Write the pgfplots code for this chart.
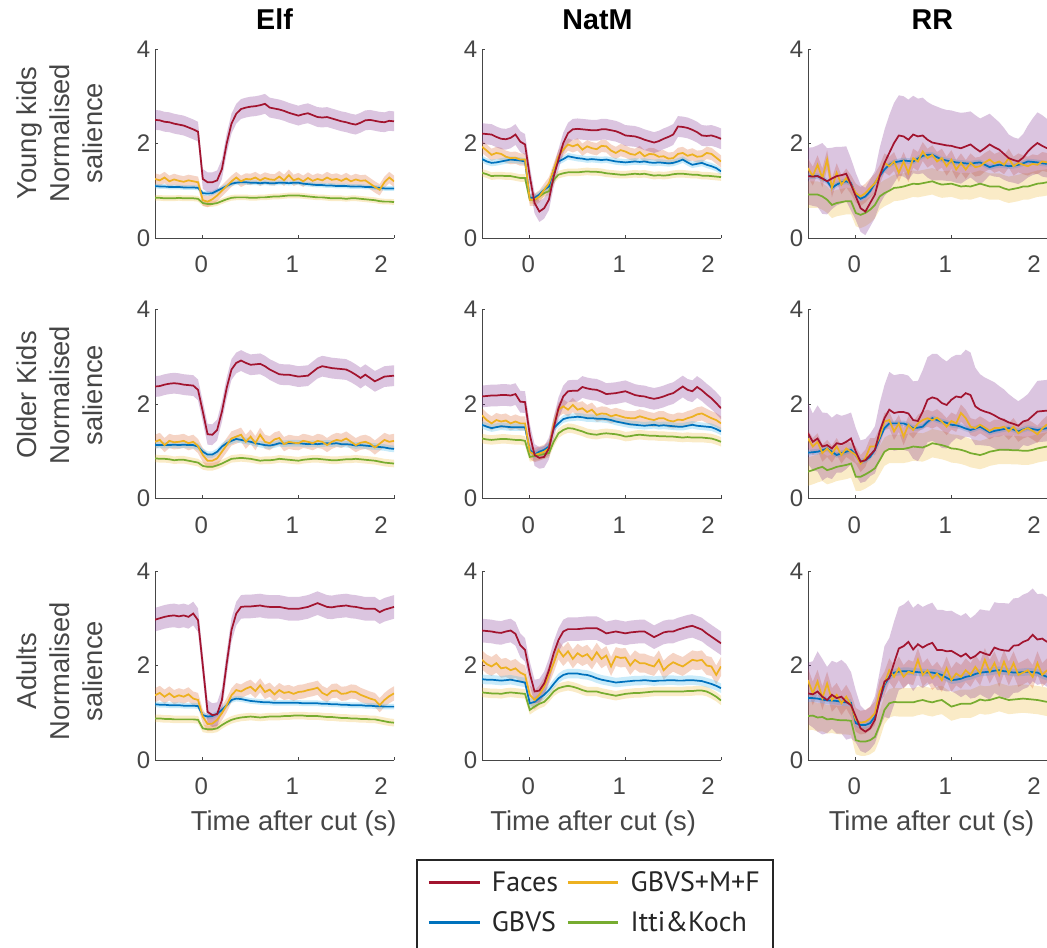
\documentclass[border=0pt]{standalone}
\usepackage{fontspec}
\setmainfont{Liberation Sans}
\newfontfamily\legfont{PT Sans}
\usepackage{pgfplots}
\usepackage{pgfplotstable}
\usepgfplotslibrary{fillbetween}
\pgfplotsset{compat=1.18}

\definecolor{cred}{RGB}{162,20,47}
\definecolor{cblue}{RGB}{0,114,189}
\definecolor{corange}{RGB}{237,177,32}
\definecolor{cgreen}{RGB}{119,172,48}
\definecolor{bpurple}{RGB}{126,47,142}
\definecolor{bblue}{RGB}{77,190,238}
\definecolor{bsalmon}{RGB}{217,83,25}
\definecolor{byellow}{RGB}{237,177,32}
\definecolor{axgray}{RGB}{70,70,70}

% Elf, young kids
\pgfplotstableread{
x fa gb gm ik
-0.50 2.50 1.10 1.25 0.85
-0.45 2.49 1.09 1.22 0.85
-0.40 2.46 1.09 1.28 0.84
-0.35 2.45 1.08 1.20 0.84
-0.30 2.42 1.08 1.24 0.84
-0.25 2.40 1.08 1.21 0.85
-0.20 2.38 1.07 1.19 0.84
-0.15 2.34 1.07 1.22 0.84
-0.10 2.30 1.07 1.20 0.84
-0.05 2.25 1.06 1.18 0.83
0.00 1.25 0.95 0.80 0.74
0.05 1.18 0.94 0.77 0.72
0.10 1.18 0.95 0.82 0.72
0.15 1.22 1.00 0.90 0.74
0.20 1.46 1.05 1.00 0.78
0.25 2.00 1.10 1.10 0.82
0.30 2.42 1.15 1.20 0.85
0.35 2.63 1.17 1.28 0.86
0.40 2.73 1.18 1.20 0.86
0.45 2.76 1.18 1.25 0.86
0.50 2.78 1.17 1.24 0.85
0.55 2.79 1.17 1.28 0.85
0.60 2.81 1.16 1.22 0.86
0.65 2.84 1.17 1.27 0.86
0.70 2.76 1.16 1.24 0.87
0.75 2.74 1.16 1.23 0.88
0.80 2.72 1.17 1.30 0.88
0.85 2.69 1.17 1.22 0.89
0.90 2.65 1.16 1.33 0.90
0.95 2.62 1.17 1.22 0.90
1.00 2.59 1.17 1.26 0.90
1.05 2.62 1.15 1.20 0.89
1.10 2.64 1.14 1.27 0.88
1.15 2.60 1.13 1.21 0.87
1.20 2.56 1.12 1.25 0.86
1.25 2.55 1.12 1.22 0.86
1.30 2.56 1.11 1.28 0.85
1.35 2.53 1.11 1.23 0.84
1.40 2.50 1.10 1.25 0.84
1.45 2.47 1.10 1.21 0.84
1.50 2.45 1.10 1.26 0.83
1.55 2.42 1.09 1.20 0.84
1.60 2.40 1.09 1.24 0.84
1.65 2.44 1.09 1.21 0.83
1.70 2.49 1.08 1.22 0.82
1.75 2.50 1.08 1.15 0.81
1.80 2.48 1.07 1.08 0.80
1.85 2.46 1.06 1.02 0.78
1.90 2.45 1.05 1.18 0.77
1.95 2.48 1.05 1.28 0.77
2.00 2.47 1.05 1.20 0.76
}\tabA

% NatM, young kids
\pgfplotstableread{
x fa gb gm ik
-0.50 2.21 1.67 1.93 1.38
-0.45 2.20 1.62 1.85 1.35
-0.40 2.19 1.59 1.76 1.31
-0.35 2.14 1.60 1.80 1.32
-0.30 2.10 1.62 1.78 1.32
-0.25 2.09 1.64 1.72 1.31
-0.20 2.12 1.66 1.69 1.31
-0.15 2.19 1.65 1.70 1.29
-0.10 2.04 1.64 1.66 1.27
-0.05 1.98 1.62 1.66 1.27
0.00 1.30 0.85 0.81 0.81
0.05 0.74 0.85 0.81 0.81
0.10 0.56 0.92 0.88 0.88
0.15 0.63 1.02 1.02 0.95
0.20 0.81 1.09 1.16 0.99
0.25 1.30 1.45 1.45 1.23
0.30 1.66 1.62 1.73 1.34
0.35 2.01 1.67 1.87 1.37
0.40 2.22 1.73 1.98 1.39
0.45 2.30 1.71 1.94 1.39
0.50 2.31 1.69 1.98 1.39
0.55 2.30 1.68 1.87 1.40
0.60 2.29 1.66 1.94 1.41
0.65 2.28 1.67 1.90 1.40
0.70 2.28 1.66 1.88 1.40
0.75 2.30 1.65 1.95 1.39
0.80 2.30 1.66 1.94 1.37
0.85 2.28 1.64 1.85 1.36
0.90 2.26 1.62 1.80 1.35
0.95 2.22 1.61 1.86 1.34
1.00 2.17 1.60 1.83 1.34
1.05 2.16 1.61 1.78 1.35
1.10 2.15 1.62 1.76 1.36
1.15 2.12 1.61 1.82 1.35
1.20 2.08 1.62 1.73 1.36
1.25 2.05 1.60 1.78 1.34
1.30 2.02 1.59 1.77 1.32
1.35 2.05 1.60 1.72 1.33
1.40 2.10 1.59 1.73 1.32
1.45 2.14 1.58 1.68 1.33
1.50 2.19 1.59 1.69 1.35
1.55 2.36 1.62 1.78 1.36
1.60 2.35 1.66 1.80 1.36
1.65 2.33 1.60 1.74 1.35
1.70 2.29 1.55 1.77 1.34
1.75 2.24 1.57 1.72 1.34
1.80 2.17 1.59 1.73 1.32
1.85 2.16 1.55 1.80 1.32
1.90 2.17 1.52 1.78 1.31
1.95 2.14 1.48 1.70 1.30
2.00 2.10 1.41 1.62 1.29
}\tabB

% RR, young kids
\pgfplotstableread{
x fa fe gb gm ik
-0.50 1.31 0.60 1.31 1.48 0.92
-0.45 1.30 0.62 1.31 1.31 0.92
-0.40 1.31 0.65 1.31 1.55 0.92
-0.35 1.26 0.75 1.26 1.27 0.88
-0.30 1.20 0.70 1.20 1.66 0.81
-0.25 1.26 0.65 1.06 1.06 0.70
-0.20 1.31 0.62 1.13 1.38 0.74
-0.15 1.33 0.60 1.18 1.13 0.76
-0.10 1.36 0.58 1.20 1.27 0.78
-0.05 1.13 0.55 1.16 1.13 0.78
0.00 0.88 0.50 0.92 0.95 0.53
0.05 0.63 0.50 0.83 0.88 0.49
0.10 0.56 0.50 0.88 0.95 0.53
0.15 0.74 0.50 0.99 1.06 0.60
0.20 0.92 0.50 1.16 1.16 0.70
0.25 1.31 0.60 1.31 1.34 0.88
0.30 1.59 0.70 1.45 1.59 0.95
0.35 1.80 0.80 1.55 1.52 1.00
0.40 2.01 0.85 1.60 1.62 1.06
0.45 2.17 0.85 1.62 1.38 1.07
0.50 2.15 0.85 1.64 1.62 1.09
0.55 2.08 0.85 1.63 1.38 1.12
0.60 2.19 0.82 1.62 1.69 1.15
0.65 2.15 0.80 1.68 1.62 1.14
0.70 2.17 0.80 1.74 1.83 1.16
0.75 2.08 0.80 1.76 1.69 1.18
0.80 2.02 0.80 1.76 1.76 1.20
0.85 2.00 0.78 1.71 1.62 1.16
0.90 1.98 0.76 1.66 1.69 1.13
0.95 1.96 0.75 1.64 1.52 1.14
1.00 1.95 0.75 1.62 1.66 1.15
1.05 1.92 0.75 1.60 1.45 1.12
1.10 1.90 0.75 1.59 1.59 1.09
1.15 1.94 0.72 1.58 1.45 1.10
1.20 1.98 0.70 1.57 1.59 1.09
1.25 1.90 0.70 1.59 1.50 1.12
1.30 1.83 0.70 1.60 1.52 1.15
1.35 1.90 0.68 1.55 1.60 1.12
1.40 1.98 0.65 1.50 1.66 1.09
1.45 1.92 0.62 1.53 1.58 1.09
1.50 1.87 0.58 1.55 1.62 1.09
1.55 1.78 0.55 1.54 1.55 1.05
1.60 1.69 0.50 1.52 1.69 1.02
1.65 1.65 0.48 1.53 1.52 1.04
1.70 1.62 0.48 1.55 1.59 1.06
1.75 1.70 0.50 1.58 1.55 1.09
1.80 1.83 0.55 1.62 1.52 1.09
1.85 1.93 0.60 1.61 1.57 1.12
1.90 2.01 0.65 1.60 1.55 1.15
1.95 1.95 0.65 1.58 1.62 1.16
2.00 1.90 0.62 1.57 1.60 1.18
}\tabC

% Elf, older kids
\pgfplotstableread{
x fa gb gm ik
-0.50 2.37 1.13 1.20 0.85
-0.45 2.38 1.13 1.24 0.84
-0.40 2.41 1.13 1.13 0.84
-0.35 2.43 1.13 1.22 0.83
-0.30 2.44 1.14 1.19 0.81
-0.25 2.43 1.13 1.20 0.82
-0.20 2.41 1.14 1.22 0.82
-0.15 2.40 1.13 1.17 0.80
-0.10 2.39 1.13 1.20 0.78
-0.05 2.30 1.10 1.11 0.76
0.00 1.84 0.99 0.92 0.69
0.05 1.36 0.93 0.80 0.67
0.10 1.35 0.93 0.80 0.67
0.15 1.45 0.99 0.85 0.70
0.20 1.84 1.10 0.99 0.74
0.25 2.34 1.17 1.13 0.79
0.30 2.73 1.22 1.27 0.84
0.35 2.87 1.26 1.31 0.85
0.40 2.92 1.24 1.35 0.86
0.45 2.87 1.22 1.20 0.85
0.50 2.83 1.20 1.31 0.84
0.55 2.84 1.17 1.17 0.82
0.60 2.85 1.15 1.35 0.80
0.65 2.80 1.13 1.20 0.81
0.70 2.73 1.12 1.17 0.81
0.75 2.68 1.14 1.25 0.82
0.80 2.63 1.17 1.28 0.84
0.85 2.62 1.16 1.15 0.83
0.90 2.62 1.17 1.20 0.82
0.95 2.60 1.17 1.18 0.81
1.00 2.58 1.17 1.17 0.80
1.05 2.59 1.16 1.22 0.82
1.10 2.60 1.15 1.20 0.83
1.15 2.68 1.16 1.17 0.84
1.20 2.76 1.15 1.22 0.84
1.25 2.80 1.16 1.20 0.83
1.30 2.78 1.17 1.13 0.82
1.35 2.76 1.16 1.20 0.81
1.40 2.75 1.17 1.24 0.81
1.45 2.74 1.15 1.22 0.82
1.50 2.73 1.15 1.27 0.83
1.55 2.68 1.14 1.20 0.83
1.60 2.62 1.12 1.13 0.84
1.65 2.55 1.13 1.18 0.83
1.70 2.62 1.12 1.20 0.82
1.75 2.55 1.11 1.16 0.81
1.80 2.48 1.10 1.08 0.80
1.85 2.53 1.09 1.16 0.78
1.90 2.58 1.08 1.24 0.76
1.95 2.59 1.06 1.20 0.75
2.00 2.60 1.05 1.22 0.74
}\tabD

% NatM, older kids
\pgfplotstableread{
x fa gb gm ik
-0.50 2.16 1.56 1.76 1.27
-0.45 2.17 1.52 1.66 1.25
-0.40 2.18 1.49 1.59 1.24
-0.35 2.18 1.51 1.66 1.25
-0.30 2.19 1.53 1.63 1.26
-0.25 2.19 1.52 1.65 1.26
-0.20 2.18 1.51 1.59 1.25
-0.15 2.21 1.51 1.63 1.24
-0.10 2.05 1.51 1.59 1.24
-0.05 2.04 1.51 1.59 1.22
0.00 1.35 1.03 0.99 0.88
0.05 0.92 0.93 0.92 0.90
0.10 0.86 0.99 0.95 0.92
0.15 0.88 1.03 0.99 0.94
0.20 1.06 1.10 1.06 0.96
0.25 1.49 1.49 1.56 1.20
0.30 1.91 1.59 1.88 1.38
0.35 2.16 1.68 1.95 1.45
0.40 2.27 1.71 1.88 1.49
0.45 2.28 1.72 1.98 1.48
0.50 2.28 1.73 1.88 1.45
0.55 2.36 1.72 1.91 1.42
0.60 2.33 1.70 1.83 1.38
0.65 2.31 1.70 1.88 1.36
0.70 2.30 1.69 1.77 1.35
0.75 2.26 1.69 1.80 1.37
0.80 2.21 1.68 1.79 1.38
0.85 2.22 1.66 1.74 1.37
0.90 2.23 1.63 1.77 1.36
0.95 2.25 1.61 1.74 1.34
1.00 2.27 1.59 1.71 1.31
1.05 2.23 1.57 1.70 1.32
1.10 2.19 1.56 1.70 1.34
1.15 2.17 1.55 1.74 1.35
1.20 2.16 1.54 1.71 1.34
1.25 2.13 1.55 1.68 1.33
1.30 2.11 1.56 1.66 1.33
1.35 2.13 1.54 1.70 1.32
1.40 2.16 1.55 1.70 1.32
1.45 2.20 1.54 1.65 1.31
1.50 2.23 1.53 1.63 1.31
1.55 2.30 1.52 1.67 1.30
1.60 2.37 1.52 1.66 1.29
1.65 2.30 1.54 1.70 1.30
1.70 2.27 1.56 1.73 1.29
1.75 2.36 1.54 1.78 1.29
1.80 2.29 1.53 1.80 1.29
1.85 2.20 1.52 1.75 1.28
1.90 2.12 1.51 1.70 1.27
1.95 2.02 1.47 1.66 1.24
2.00 1.91 1.42 1.59 1.20
}\tabE

% RR, older kids
\pgfplotstableread{
x fa fe gb gm ik
-0.50 1.38 0.65 0.97 1.27 0.57
-0.45 1.20 0.60 0.98 1.10 0.60
-0.40 1.27 0.70 0.99 1.20 0.64
-0.35 1.10 0.72 1.02 0.96 0.67
-0.30 1.13 0.68 1.06 1.06 0.60
-0.25 1.06 0.65 0.99 0.94 0.63
-0.20 1.17 0.62 0.92 1.10 0.67
-0.15 1.15 0.60 0.96 0.92 0.69
-0.10 1.20 0.58 0.99 1.06 0.71
-0.05 1.27 0.55 1.03 0.99 0.74
0.00 0.99 0.50 0.92 0.92 0.46
0.05 0.78 0.45 0.78 0.74 0.46
0.10 0.81 0.45 0.81 0.85 0.51
0.15 0.92 0.45 0.88 1.10 0.57
0.20 1.03 0.50 1.03 1.10 0.64
0.25 1.42 0.60 1.27 1.31 0.81
0.30 1.70 0.70 1.49 1.63 0.99
0.35 1.88 0.80 1.59 1.66 1.05
0.40 1.81 0.80 1.59 1.42 1.05
0.45 1.83 0.80 1.59 1.59 1.05
0.50 1.83 0.80 1.59 1.31 1.05
0.55 1.80 0.80 1.55 1.56 1.07
0.60 1.66 0.82 1.49 1.45 1.10
0.65 1.64 0.85 1.50 1.59 1.09
0.70 1.84 0.88 1.52 1.66 1.08
0.75 2.09 0.90 1.62 1.70 1.12
0.80 2.14 0.92 1.70 1.66 1.17
0.85 2.11 0.95 1.66 1.71 1.15
0.90 2.02 0.95 1.63 1.63 1.13
0.95 1.98 0.92 1.60 1.52 1.10
1.00 2.09 0.90 1.56 1.64 1.06
1.05 2.16 0.88 1.55 1.59 1.05
1.10 2.14 0.90 1.52 1.81 1.03
1.15 2.23 0.92 1.48 1.70 1.00
1.20 2.19 0.90 1.45 1.52 0.96
1.25 1.95 0.82 1.48 1.49 0.94
1.30 1.88 0.75 1.52 1.56 0.92
1.35 1.84 0.72 1.46 1.50 0.95
1.40 1.81 0.70 1.40 1.43 0.99
1.45 1.76 0.70 1.43 1.49 1.01
1.50 1.70 0.68 1.45 1.49 1.03
1.55 1.66 0.65 1.47 1.52 1.03
1.60 1.61 0.60 1.49 1.42 1.03
1.65 1.58 0.55 1.46 1.52 1.02
1.70 1.54 0.52 1.42 1.38 1.02
1.75 1.63 0.50 1.46 1.45 1.01
1.80 1.66 0.55 1.49 1.49 1.01
1.85 1.75 0.60 1.47 1.43 1.03
1.90 1.84 0.65 1.45 1.36 1.06
1.95 1.85 0.65 1.47 1.48 1.08
2.00 1.86 0.65 1.49 1.57 1.10
}\tabF

% Elf, adults
\pgfplotstableread{
x fa gb gm ik
-0.50 2.97 1.18 1.37 0.88
-0.45 3.00 1.17 1.42 0.88
-0.40 3.03 1.17 1.34 0.87
-0.35 3.05 1.16 1.41 0.87
-0.30 3.06 1.16 1.33 0.86
-0.25 3.04 1.16 1.37 0.86
-0.20 3.06 1.15 1.34 0.86
-0.15 3.03 1.15 1.39 0.86
-0.10 3.10 1.15 1.30 0.86
-0.05 2.96 1.14 1.27 0.85
0.00 2.00 0.95 0.92 0.67
0.05 1.02 0.92 0.76 0.65
0.10 0.95 0.93 0.77 0.65
0.15 0.97 0.98 0.85 0.67
0.20 1.27 1.06 0.99 0.74
0.25 2.04 1.16 1.16 0.80
0.30 2.75 1.27 1.37 0.85
0.35 3.10 1.30 1.48 0.88
0.40 3.24 1.29 1.45 0.90
0.45 3.25 1.27 1.51 0.91
0.50 3.25 1.25 1.55 0.92
0.55 3.26 1.24 1.46 0.91
0.60 3.27 1.23 1.58 0.90
0.65 3.25 1.22 1.44 0.91
0.70 3.24 1.22 1.49 0.92
0.75 3.24 1.21 1.39 0.92
0.80 3.24 1.21 1.48 0.92
0.85 3.22 1.21 1.42 0.93
0.90 3.20 1.21 1.44 0.93
0.95 3.20 1.21 1.40 0.94
1.00 3.20 1.21 1.44 0.94
1.05 3.22 1.20 1.45 0.94
1.10 3.24 1.20 1.48 0.93
1.15 3.28 1.20 1.50 0.93
1.20 3.32 1.20 1.53 0.93
1.25 3.28 1.19 1.42 0.92
1.30 3.24 1.19 1.37 0.91
1.35 3.23 1.18 1.46 0.91
1.40 3.25 1.18 1.47 0.90
1.45 3.26 1.17 1.40 0.89
1.50 3.27 1.17 1.41 0.89
1.55 3.25 1.16 1.45 0.88
1.60 3.24 1.16 1.44 0.88
1.65 3.22 1.16 1.38 0.87
1.70 3.20 1.15 1.34 0.87
1.75 3.20 1.15 1.30 0.86
1.80 3.20 1.14 1.27 0.86
1.85 3.13 1.14 1.16 0.84
1.90 3.18 1.13 1.27 0.82
1.95 3.21 1.13 1.35 0.80
2.00 3.24 1.13 1.41 0.79
}\tabG

% NatM, adults
\pgfplotstableread{
x fa gb gm ik
-0.50 2.74 1.71 2.12 1.43
-0.45 2.73 1.70 2.03 1.42
-0.40 2.72 1.70 1.98 1.41
-0.35 2.70 1.69 2.05 1.41
-0.30 2.69 1.68 1.94 1.40
-0.25 2.72 1.69 1.96 1.42
-0.20 2.74 1.70 1.90 1.43
-0.15 2.67 1.68 1.94 1.42
-0.10 2.43 1.66 1.85 1.41
-0.05 2.33 1.64 1.80 1.40
0.00 1.83 1.20 1.38 1.06
0.05 1.45 1.23 1.27 1.13
0.10 1.47 1.31 1.38 1.19
0.15 1.62 1.38 1.55 1.23
0.20 1.90 1.48 1.80 1.33
0.25 2.26 1.61 2.05 1.45
0.30 2.54 1.73 2.33 1.52
0.35 2.72 1.80 2.19 1.55
0.40 2.77 1.83 2.30 1.57
0.45 2.77 1.83 2.14 1.55
0.50 2.77 1.83 2.26 1.52
0.55 2.78 1.81 2.19 1.48
0.60 2.79 1.80 2.24 1.45
0.65 2.79 1.77 2.12 1.45
0.70 2.79 1.73 2.28 1.45
0.75 2.74 1.70 2.14 1.42
0.80 2.68 1.68 2.21 1.40
0.85 2.70 1.66 1.98 1.38
0.90 2.72 1.64 2.19 1.36
0.95 2.70 1.65 2.16 1.38
1.00 2.68 1.66 2.17 1.40
1.05 2.70 1.67 2.00 1.41
1.10 2.71 1.68 2.12 1.42
1.15 2.72 1.68 2.05 1.42
1.20 2.72 1.69 2.05 1.43
1.25 2.66 1.68 2.01 1.44
1.30 2.60 1.67 1.98 1.45
1.35 2.65 1.68 2.12 1.45
1.40 2.70 1.68 1.90 1.45
1.45 2.72 1.69 2.00 1.45
1.50 2.72 1.69 2.07 1.45
1.55 2.76 1.68 2.02 1.45
1.60 2.79 1.68 1.98 1.45
1.65 2.82 1.69 2.05 1.46
1.70 2.84 1.69 2.12 1.46
1.75 2.80 1.68 2.10 1.47
1.80 2.76 1.67 2.12 1.47
1.85 2.68 1.64 2.00 1.45
1.90 2.61 1.61 1.98 1.40
1.95 2.54 1.57 1.80 1.34
2.00 2.47 1.52 1.98 1.26
}\tabH

% RR, adults
\pgfplotstableread{
x fa fe gb gm ik
-0.50 1.41 0.65 1.31 1.69 0.93
-0.45 1.39 0.70 1.31 1.41 0.94
-0.40 1.45 0.85 1.30 1.66 0.90
-0.35 1.34 0.80 1.28 1.31 0.91
-0.30 1.27 0.70 1.26 1.62 0.86
-0.25 1.38 0.72 1.26 1.27 0.87
-0.20 1.31 0.75 1.25 1.38 0.85
-0.15 1.34 0.78 1.23 1.20 0.84
-0.10 1.23 0.80 1.22 1.34 0.84
-0.05 1.16 0.70 1.21 1.16 0.83
0.00 0.92 0.55 0.78 0.85 0.42
0.05 0.67 0.48 0.74 0.79 0.39
0.10 0.60 0.45 0.74 0.81 0.39
0.15 0.67 0.45 0.78 0.88 0.42
0.20 0.85 0.50 0.92 0.99 0.49
0.25 1.27 0.60 1.27 1.45 0.74
0.30 1.66 0.75 1.59 1.62 1.06
0.35 1.73 0.85 1.76 1.90 1.20
0.40 2.05 0.88 1.85 1.76 1.23
0.45 2.36 0.88 1.87 1.94 1.22
0.50 2.41 0.88 1.88 1.76 1.22
0.55 2.50 0.88 1.88 1.87 1.22
0.60 2.34 0.88 1.87 1.83 1.22
0.65 2.45 0.86 1.86 2.12 1.25
0.70 2.38 0.86 1.85 1.80 1.27
0.75 2.44 0.85 1.85 1.90 1.24
0.80 2.48 0.85 1.85 1.73 1.22
0.85 2.33 0.85 1.83 1.83 1.25
0.90 2.33 0.85 1.80 1.69 1.27
0.95 2.30 0.85 1.74 1.94 1.20
1.00 2.31 0.85 1.69 1.69 1.13
1.05 2.25 0.85 1.70 1.83 1.16
1.10 2.19 0.86 1.72 1.76 1.19
1.15 2.25 0.86 1.76 1.90 1.19
1.20 2.15 0.85 1.78 1.80 1.19
1.25 2.20 0.88 1.82 1.97 1.23
1.30 2.29 0.90 1.85 1.83 1.28
1.35 2.25 0.92 1.86 2.12 1.26
1.40 2.22 0.94 1.87 1.87 1.27
1.45 2.38 0.96 1.89 2.05 1.30
1.50 2.34 0.98 1.90 1.80 1.33
1.55 2.32 1.00 1.88 2.08 1.30
1.60 2.31 1.00 1.87 1.83 1.27
1.65 2.42 1.00 1.85 2.05 1.28
1.70 2.43 1.00 1.85 1.80 1.29
1.75 2.50 1.00 1.86 1.85 1.30
1.80 2.54 1.00 1.87 1.90 1.29
1.85 2.65 0.98 1.86 1.76 1.28
1.90 2.55 0.96 1.85 2.05 1.27
1.95 2.57 0.95 1.80 1.80 1.25
2.00 2.50 0.95 1.76 1.90 1.23
}\tabI

% #1 table, #2-#5 half widths of the bands (faces, gbvs, gbvs+m+f, itti)
\newcommand{\drawpanel}[5]{%
  \addplot[name path=iu, draw=none, forget plot] table[x=x, y expr=\thisrow{ik}+#5] {#1};
  \addplot[name path=il, draw=none, forget plot] table[x=x, y expr=\thisrow{ik}-#5] {#1};
  \addplot[byellow, fill opacity=0.25, forget plot] fill between[of=iu and il];
  \addplot[name path=mu, draw=none, forget plot] table[x=x, y expr=\thisrow{gm}+#4] {#1};
  \addplot[name path=ml, draw=none, forget plot] table[x=x, y expr=\thisrow{gm}-#4] {#1};
  \addplot[bsalmon, fill opacity=0.25, forget plot] fill between[of=mu and ml];
  \addplot[name path=gu, draw=none, forget plot] table[x=x, y expr=\thisrow{gb}+#3] {#1};
  \addplot[name path=gl, draw=none, forget plot] table[x=x, y expr=\thisrow{gb}-#3] {#1};
  \addplot[bblue, fill opacity=0.3, forget plot] fill between[of=gu and gl];
  \addplot[name path=fu, draw=none, forget plot] table[x=x, y expr=\thisrow{fa}+#2] {#1};
  \addplot[name path=fl, draw=none, forget plot] table[x=x, y expr=\thisrow{fa}-#2] {#1};
  \addplot[bpurple, fill opacity=0.28, forget plot] fill between[of=fu and fl];
  \addplot[cgreen, line width=1.3pt, forget plot] table[x=x, y=ik] {#1};
  \addplot[cblue, line width=1.3pt, forget plot] table[x=x, y=gb] {#1};
  \addplot[corange, line width=1.3pt, forget plot] table[x=x, y=gm] {#1};
  \addplot[cred, line width=1.3pt, forget plot] table[x=x, y=fa] {#1};
}

\pgfplotsset{
  panel/.style={
    scale only axis, width=179.25pt, height=141.75pt, anchor=south west,
    xmin=-0.5, xmax=2, ymin=0, ymax=4,
    axis lines=left, axis line style={-, axgray, line width=0.7pt},
    xtick={0,1,2}, ytick={0,2,4}, xticklabels={},
    % the printed x labels sit a little left of their ticks, as in the source figure
    extra x ticks={-0.015,0.935,1.865}, extra x tick labels={0,1,2},
    extra x tick style={major tick length=0pt},
    tick align=inside, major tick length=2.5pt,
    tick style={axgray, line width=0.7pt},
    /pgf/number format/assume math mode=true,
    ticklabel style={font=\fontsize{18}{20}\selectfont, text=axgray},
    xticklabel style={yshift=-10pt},
    title style={font=\bfseries\fontsize{21.5}{24}\selectfont, anchor=base, yshift=9pt},
    ylabel style={font=\fontsize{20.5}{24.75}\selectfont, text=axgray, align=center,
      anchor=south, inner sep=0pt},
    xlabel style={font=\fontsize{20.5}{24}\selectfont, text=axgray, anchor=base, yshift=-52.5pt},
  }
}

\begin{document}
\begin{tikzpicture}

% row 1
\begin{axis}[panel, at={(116.25pt,-178.5pt)}, title={Elf},
  ylabel={Young kids\\Normalised\\salience},
  ylabel style={at={(axis description cs:-0.218,0.556)}}]
\drawpanel{\tabA}{0.21}{0.05}{0.12}{0.06}
\end{axis}
\begin{axis}[panel, at={(361.5pt,-178.5pt)}, title={NatM},
  title style={at={(axis description cs:0.483,1)}}]
\drawpanel{\tabB}{0.22}{0.07}{0.13}{0.08}
\end{axis}
\begin{axis}[panel, at={(606pt,-178.5pt)}, title={RR},
  title style={at={(axis description cs:0.52,1)}}]
\drawpanel{\tabC}{\thisrow{fe}}{0.06}{0.2}{0.28}
\end{axis}

% row 2
\begin{axis}[panel, at={(116.25pt,-373.875pt)},
  ylabel={Older Kids\\Normalised\\salience},
  ylabel style={at={(axis description cs:-0.218,0.548)}}]
\drawpanel{\tabD}{0.22}{0.07}{0.15}{0.08}
\end{axis}
\begin{axis}[panel, at={(361.5pt,-373.875pt)}]
\drawpanel{\tabE}{0.23}{0.08}{0.15}{0.1}
\end{axis}
\begin{axis}[panel, at={(606pt,-373.875pt)}]
\drawpanel{\tabF}{\thisrow{fe}}{0.06}{0.18}{0.3}
\end{axis}

% row 3
\begin{axis}[panel, at={(116.25pt,-570pt)},
  ylabel={Adults\\Normalised\\salience},
  ylabel style={at={(axis description cs:-0.218,0.47)}},
  xlabel={Time after cut (s)},
  xlabel style={at={(axis description cs:0.58,0)}}]
\drawpanel{\tabG}{0.25}{0.06}{0.15}{0.08}
\end{axis}
\begin{axis}[panel, at={(361.5pt,-570pt)},
  xlabel={Time after cut (s)},
  xlabel style={at={(axis description cs:0.465,0)}},
  legend columns=2,
  legend cell align=left,
  legend style={at={(axis description cs:-0.272,-0.53)}, anchor=north west,
    draw=none, name=lgd,
    font=\legfont\fontsize{21}{25}\selectfont, text=black!85,
    inner xsep=7.5pt, inner ysep=6.5pt, row sep=9.5pt,
    /tikz/every odd column/.append style={column sep=6pt},
    /tikz/every even column/.append style={column sep=4pt}},
  legend image code/.code={\draw[#1, line width=2.4pt] (0pt,0pt) -- (38pt,0pt);}]
\drawpanel{\tabH}{0.25}{0.1}{0.2}{0.1}
\addlegendimage{cred}\addlegendentry{Faces}
\addlegendimage{corange}\addlegendentry{GBVS+M+F}
\addlegendimage{cblue}\addlegendentry{GBVS}
\addlegendimage{cgreen}\addlegendentry{Itti\&Koch}
\end{axis}
% legend frame, open at the bottom edge of the page as in the source
\draw[line width=1.1pt, black!85] ([yshift=-40pt]lgd.south west) -- (lgd.north west)
  -- (lgd.north east) -- ([yshift=-40pt]lgd.south east);
\begin{axis}[panel, at={(606pt,-570pt)},
  xlabel={Time after cut (s)},
  xlabel style={at={(axis description cs:0.517,0)}}]
\drawpanel{\tabI}{\thisrow{fe}}{0.08}{0.25}{0.3}
\end{axis}

\pgfresetboundingbox
\useasboundingbox (0pt,0pt) rectangle (785.25pt,-710.25pt);
\end{tikzpicture}
\end{document}
